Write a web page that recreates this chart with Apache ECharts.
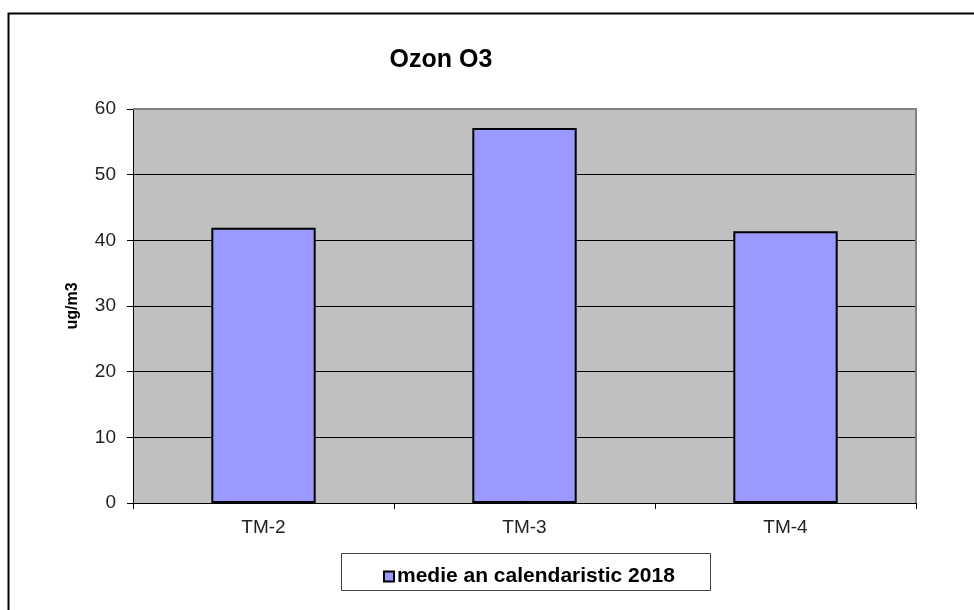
<!DOCTYPE html>
<html>
<head>
<meta charset="utf-8">
<script src="https://cdn.jsdelivr.net/npm/echarts@6/dist/echarts.min.js"></script>
<style>
html, body { margin: 0; padding: 0; background: #fff; }
#main { width: 974px; height: 610px; }
</style>
</head>
<body>
<div id="main"></div>
<script>
var categories = ['TM-2', 'TM-3', 'TM-4'];
var values = [41.9, 57.1, 41.4];
var seriesName = 'medie an calendaristic 2018';

var myChart = echarts.init(document.getElementById('main'));
var option = {
	animation: false,
	backgroundColor: '#fff',
	textStyle: { fontFamily: 'Arial, "Liberation Sans", sans-serif' },
	title: {
		text: 'Ozon O3',
		left: 436,
		top: 43,
		textAlign: 'center',
		textStyle: { fontSize: 25, fontWeight: 'bold', color: '#000' }
	},
	graphic: [
		// outer chart frame (extends past the window)
		{ type: 'rect', shape: { x: 8.5, y: 13.5, width: 1000, height: 700 }, style: { fill: null, stroke: '#000', lineWidth: 2 }, z: -1 },
		// plot border shading on top and right
		{ type: 'polyline', shape: { points: [[133, 109], [916, 109], [916, 503]] }, style: { stroke: '#808080', lineWidth: 2, fill: null }, z: 1 },
		// legend frame
		{ type: 'rect', shape: { x: 341.5, y: 553.5, width: 369, height: 37 }, style: { fill: '#fff', stroke: '#444', lineWidth: 1 }, z: 0 }
	],
	legend: {
		data: [seriesName],
		left: 378,
		top: 561,
		itemWidth: 10,
		itemHeight: 10,
		itemGap: 4,
		textStyle: { fontSize: 21, fontWeight: 'bold', color: '#000', padding: [0, 0, 0, -2] },
		icon: 'rect',
		z: 5
	},
	grid: {
		left: 133,
		top: 109,
		right: 58,
		bottom: 107,
		show: true,
		backgroundColor: '#c0c0c0',
		borderWidth: 0
	},
	xAxis: {
		type: 'category',
		data: categories,
		axisLine: { lineStyle: { color: '#000', width: 1 } },
		axisTick: { show: true, length: 6, lineStyle: { color: '#000' } },
		axisLabel: { fontSize: 19, color: '#222', margin: 15 }
	},
	yAxis: {
		type: 'value',
		min: 0,
		max: 60,
		interval: 10,
		name: 'ug/m3',
		nameLocation: 'middle',
		nameGap: 52,
		nameTextStyle: { fontSize: 16, fontWeight: 'bold', color: '#000' },
		axisLine: { show: true, lineStyle: { color: '#000', width: 1 } },
		axisTick: { show: true, length: 6, lineStyle: { color: '#000' } },
		axisLabel: { fontSize: 19, color: '#222', margin: 17 },
		splitLine: { show: true, lineStyle: { color: '#000', width: 1 } }
	},
	series: [{
		name: seriesName,
		type: 'bar',
		data: values,
		barWidth: '40%',
		itemStyle: { color: '#9999ff', borderColor: '#000', borderWidth: 2 }
	}]
};
myChart.setOption(option);
</script>
</body>
</html>
